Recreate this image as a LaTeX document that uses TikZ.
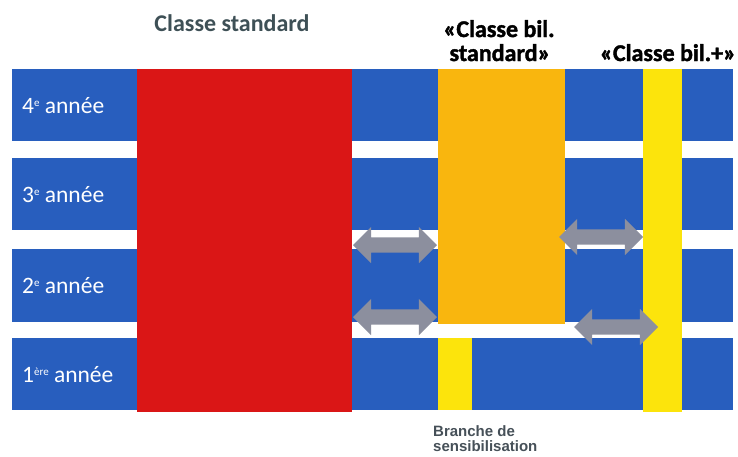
\documentclass[tikz,border=0pt]{standalone}
\usepackage{fontspec}
\setmainfont{Carlito}
\newfontfamily\arialfont{Liberation Sans}
\newfontfamily\heavyfont{Carlito}[BoldFeatures={FakeBold=1.6}]
\usetikzlibrary{shapes.arrows}
\definecolor{bandblue}{RGB}{40,94,190}
\definecolor{colred}{RGB}{218,22,22}
\definecolor{colorange}{RGB}{249,182,14}
\definecolor{colyellow}{RGB}{252,228,12}
\definecolor{arrgray}{RGB}{140,143,158}
\definecolor{titlegray}{RGB}{62,80,86}
\definecolor{notegray}{RGB}{70,80,88}
\newcommand{\supx}[1]{\raisebox{7pt}{\fontsize{11}{11}\selectfont #1}}
\tikzset{
  band/.style={fill=bandblue},
  rowlabel/.style={anchor=base west, text=white, font=\fontsize{23.5}{26}\selectfont, inner sep=0pt},
  dblarrow/.style={double arrow, fill=arrgray, draw=none, inner xsep=0pt, inner ysep=7.5pt,
    double arrow head extend=10.5pt, minimum height=84pt, double arrow tip angle=90},
  coltitle/.style={anchor=base, inner sep=0pt, align=center},
  heavytitle/.style={coltitle, text=black, font=\heavyfont\bfseries\fontsize{24}{26}\selectfont},
}
\begin{document}
\begin{tikzpicture}[x=1pt,y=-1pt]
\useasboundingbox (0,0) rectangle (738,456);
\fill[white] (0,0) rectangle (738,456);
% year bands
\fill[band] (12,69) rectangle (733,141);
\fill[band] (12,158) rectangle (733,230);
\fill[band] (12,249) rectangle (733,322);
\fill[band] (12,338) rectangle (733,410);
% columns
\fill[colred] (137,69) rectangle (352,412);
\fill[colorange] (438,69) rectangle (565,324);
\fill[colyellow] (438,338) rectangle (472,410);
\fill[colyellow] (643,69) rectangle (682,412);
% row labels
\node[rowlabel] (y4) at (22,113) {4\supx{e} année};
\node[rowlabel] (y3) at (22,202) {3\supx{e} année};
\node[rowlabel] (y2) at (22,293) {2\supx{e} année};
\node[rowlabel] (y1) at (22,382) {1\supx{ère} année};
% arrows
\node[dblarrow] (a1) at (395,245) {};
\node[dblarrow] (a2) at (395,317) {};
\node[dblarrow] (a3) at (601,237) {};
\node[dblarrow] (a4) at (616,327) {};
% titles
\node[coltitle, text=titlegray, font=\bfseries\fontsize{24}{28}\selectfont] (t1) at (232,31) {Classe standard};
\node[heavytitle] (t2a) at (499,37) {«Classe bil.};
\node[heavytitle] (t2b) at (500,61) {standard»};
\node[heavytitle] (t3) at (668,61) {«Classe bil.+»};
\node[anchor=base west, inner sep=0pt, align=left, text=notegray,
  font=\arialfont\bfseries\fontsize{15}{15}\selectfont] (note) at (433,451)
  {Branche de\\sensibilisation};
\end{tikzpicture}
\end{document}
